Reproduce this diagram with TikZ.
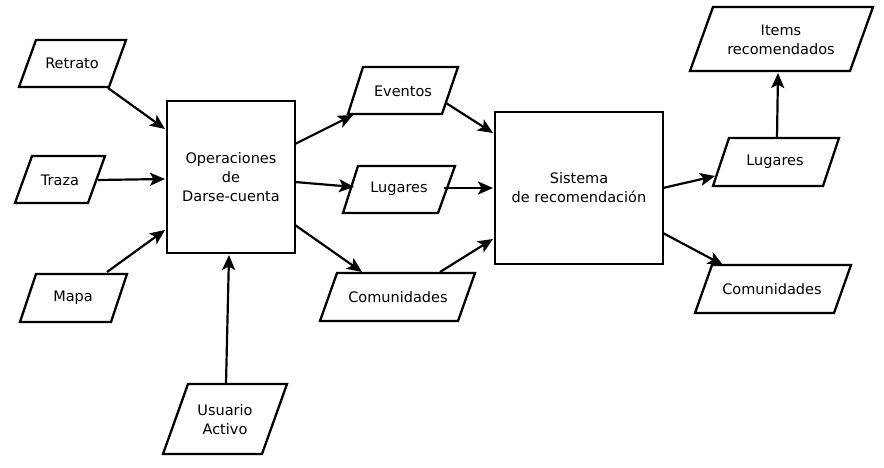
\documentclass[tikz,border=0pt]{standalone}
\usepackage{fontspec}
\setmainfont{DejaVu Sans}
\usetikzlibrary{arrows.meta}
\tikzset{
  shp/.style={draw=black, line width=2.3pt, line join=miter},
  lbl/.style={align=center, inner sep=0pt, font=\fontsize{14.5}{19}\selectfont},
  arr/.style={line width=2.2pt, -{Stealth[length=15pt,width=13pt,inset=3.5pt]}}
}
\begin{document}
\begin{tikzpicture}[x=1pt,y=-1pt]
\useasboundingbox (0,0) rectangle (884,468);
\fill[white] (0,0) rectangle (884,468);
% rectangles
\draw[shp] (167,101) rectangle (295,253);
\node[lbl] (op) at (231,177) {Operaciones\\de\\Darse-cuenta};
\draw[shp] (495,112) rectangle (663,264);
\node[lbl] (sis) at (579,188) {Sistema\\de recomendación};
% parallelograms
\draw[shp] (36,40) -- (126,40) -- (109,87) -- (19,87) -- cycle;
\node[lbl] (retrato) at (72,63) {Retrato};
\draw[shp] (32,156) -- (105,156) -- (88,203) -- (15,203) -- cycle;
\node[lbl] (traza) at (60,180) {Traza};
\draw[shp] (36,274) -- (127,274) -- (111,322) -- (20,322) -- cycle;
\node[lbl] (mapa) at (73,298) {Mapa};
\draw[shp] (188,384) -- (287,384) -- (262,454) -- (163,454) -- cycle;
\node[lbl] (usuario) at (225,420) {Usuario\\Activo};
\draw[shp] (363,67) -- (458,67) -- (442,114) -- (348,114) -- cycle;
\node[lbl] (eventos) at (403,91) {Eventos};
\draw[shp] (358,166) -- (455,166) -- (438,213) -- (343,213) -- cycle;
\node[lbl] (lug1) at (399,189) {Lugares};
\draw[shp] (337,273) -- (475,273) -- (458,321) -- (320,321) -- cycle;
\node[lbl] (com1) at (398,297) {Comunidades};
\draw[shp] (713,7) -- (873,7) -- (850,71) -- (690,71) -- cycle;
\node[lbl] (items) at (781,40) {Items\\recomendados};
\draw[shp] (729,138) -- (839,138) -- (823,186) -- (713,186) -- cycle;
\node[lbl] (lug2) at (775,162) {Lugares};
\draw[shp] (712,265) -- (851,265) -- (834,313) -- (695,313) -- cycle;
\node[lbl] (com2) at (772,289) {Comunidades};
% connector end points
\coordinate (retrato-o) at (108,88);
\coordinate (op-i1) at (165,129);
\coordinate (traza-o) at (98,180);
\coordinate (op-i2) at (165,179);
\coordinate (mapa-o) at (107,272);
\coordinate (op-i3) at (165,230);
\coordinate (usuario-o) at (226,384);
\coordinate (op-i4) at (229,255);
\coordinate (op-o1) at (295,144);
\coordinate (eventos-i) at (353,115);
\coordinate (op-o2) at (295,182);
\coordinate (lug1-i) at (354,187);
\coordinate (op-o3) at (295,225);
\coordinate (com1-i) at (362,272);
\coordinate (eventos-o) at (446,103);
\coordinate (sis-i1) at (493,133);
\coordinate (lug1-o) at (444,188);
\coordinate (sis-i2) at (493,188);
\coordinate (com1-o) at (440,272);
\coordinate (sis-i3) at (493,239);
\coordinate (sis-o1) at (663,188);
\coordinate (lug2-i) at (715,176);
\coordinate (sis-o2) at (663,233);
\coordinate (com2-i) at (723,265);
\coordinate (lug2-o) at (777,138);
\coordinate (items-i) at (778,73);
% connectors
\draw[arr] (retrato-o) -- (op-i1);
\draw[arr] (traza-o) -- (op-i2);
\draw[arr] (mapa-o) -- (op-i3);
\draw[arr] (usuario-o) -- (op-i4);
\draw[arr] (op-o1) -- (eventos-i);
\draw[arr] (op-o2) -- (lug1-i);
\draw[arr] (op-o3) -- (com1-i);
\draw[arr] (eventos-o) -- (sis-i1);
\draw[arr] (lug1-o) -- (sis-i2);
\draw[arr] (com1-o) -- (sis-i3);
\draw[arr] (sis-o1) -- (lug2-i);
\draw[arr] (sis-o2) -- (com2-i);
\draw[arr] (lug2-o) -- (items-i);
\end{tikzpicture}
\end{document}
